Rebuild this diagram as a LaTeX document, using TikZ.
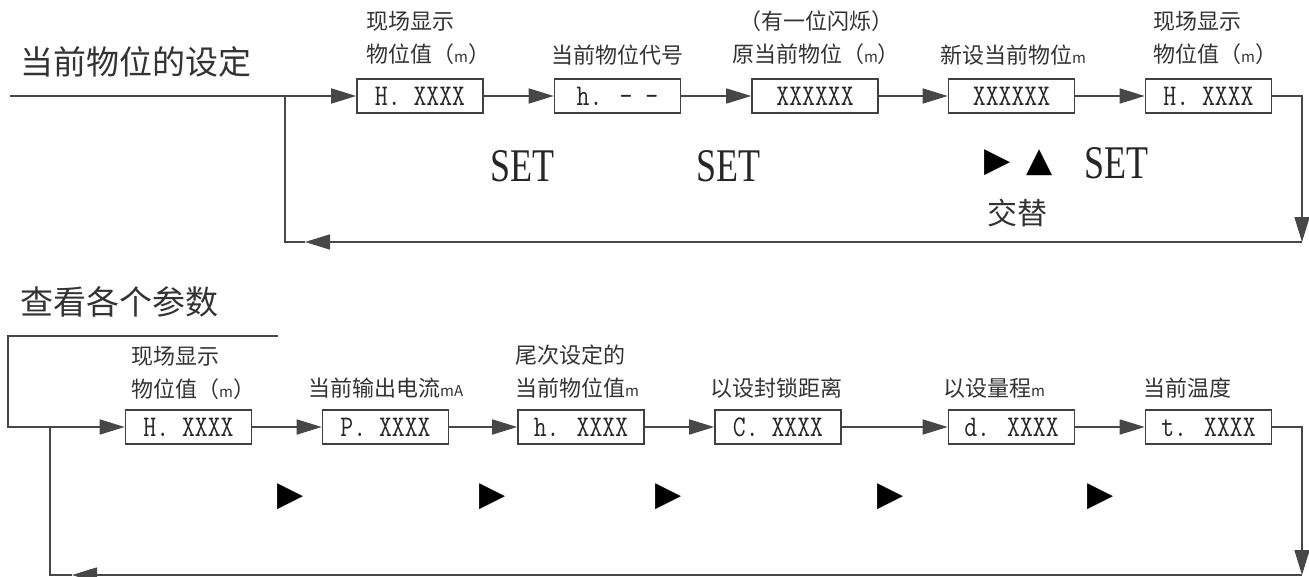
\documentclass[tikz,border=0pt]{standalone}
\usepackage{fontspec}
\setmainfont{Liberation Serif}
\newfontfamily\cjk{Noto Sans CJK SC}
\newfontfamily\symf{DejaVu Sans}
\usetikzlibrary{arrows.meta}
\begin{document}
\begin{tikzpicture}[x=1pt,y=-1pt,
 ln/.style={draw=black!72,line width=1.6pt},
 arr/.style={ln,-{Triangle[length=25pt,width=15pt]}},
 box/.style={draw=black!75,line width=1.6pt,minimum width=126pt,minimum height=34pt,inner sep=0pt,font=\fontsize{25}{25}\ttfamily,text=black!85},
 lbl/.style={font=\fontsize{22}{33}\cjk,text=black!80,anchor=west,align=left,inner sep=0pt},
 ttl/.style={font=\fontsize{33}{33}\cjk,text=black!80,anchor=west,inner sep=0pt},
 setk/.style={font=\fontsize{36}{36}\selectfont,text=black!85,inner sep=0pt},
 tri/.style={font=\fontsize{34}{34}\symf,text=black,inner sep=0pt}
]
\newcommand{\mm}[1]{{\fontsize{15}{15}\selectfont #1}}
\newcommand{\bt}[1]{\scalebox{1}[1.2]{#1}}
\useasboundingbox (0,0) rectangle (1309,576);

% ---------- top section ----------
\node[ttl] (t1) at (20,62) {当前物位的设定};

\node[box] (A1) at (420,96) {\bt{H. XXXX}};
\node[box] (A2) at (617.5,96) {\bt{h. - -}};
\node[box] (A3) at (815,96) {\bt{XXXXXX}};
\node[box] (A4) at (1011.5,96) {\bt{XXXXXX}};
\node[box] (A5) at (1208.5,96) {\bt{H. XXXX}};

\node[lbl] (LA1) at (366,38) {现场显示\\物位值（\mm{m}）};
\node[lbl] (LA2) at (551,55) {当前物位代号};
\node[lbl,align=center,anchor=center] (LA3) at (816,38) {（有一位闪烁）\\原当前物位（\mm{m}）};
\node[lbl] (LA4) at (940,55) {新设当前物位\mm{m}};
\node[lbl] (LA5) at (1153,38) {现场显示\\物位值（\mm{m}）};

\coordinate (s0) at (10,96);
\coordinate (c1) at (1302,96);
\coordinate (c2) at (1302,242);
\coordinate (ct) at (305,242);
\coordinate (c3) at (285,242);
\coordinate (c4) at (285,96);

\draw[arr] (s0) -- (A1.west);
\draw[arr] (A1.east) -- (A2.west);
\draw[arr] (A2.east) -- (A3.west);
\draw[arr] (A3.east) -- (A4.west);
\draw[arr] (A4.east) -- (A5.west);
\draw[arr] (A5.east) -- (c1) -- (c2);
\draw[arr] (c2) -- (ct);
\draw[ln] (ct) -- (c3) -- (c4);

\node[setk] (k1) at (522,166) {\scalebox{1}[1.3]{SET}};
\node[setk] (k2) at (728,166) {\scalebox{1}[1.3]{SET}};
\node[tri] (k3) at (998,163) {▶};
\node[tri] (k4) at (1040,163) {▲};
\node[setk] (k5) at (1116,163) {\scalebox{1}[1.3]{SET}};
\node[font=\fontsize{30}{30}\cjk,text=black!80,inner sep=0pt] (k6) at (1017,213) {交替};

% ---------- bottom section ----------
\node[ttl] (t2) at (20,302) {查看各个参数};

\node[box] (B1) at (188.5,427) {\bt{H. XXXX}};
\node[box] (B2) at (385.5,427) {\bt{P. XXXX}};
\node[box] (B3) at (581,427) {\bt{h. XXXX}};
\node[box] (B4) at (778,427) {\bt{C. XXXX}};
\node[box] (B5) at (1011.5,427) {\bt{d. XXXX}};
\node[box] (B6) at (1208.5,427) {\bt{t. XXXX}};

\node[lbl] (LB1) at (131,373) {现场显示\\物位值（\mm{m}）};
\node[lbl] (LB2) at (308,388) {当前输出电流\mm{mA}};
\node[lbl] (LB3) at (515,372) {尾次设定的\\当前物位值\mm{m}};
\node[lbl] (LB4) at (710,388) {以设封锁距离};
\node[lbl] (LB5) at (943,388) {以设量程\mm{m}};
\node[lbl] (LB6) at (1143,388) {当前温度};

\coordinate (d0) at (278,336);
\coordinate (d1) at (8,336);
\coordinate (d2) at (8,427);
\coordinate (e1) at (1302,427);
\coordinate (e2) at (1302,575);
\coordinate (et) at (72,575);
\coordinate (e3) at (50,575);
\coordinate (e4) at (50,427);

\draw[arr] (d0) -- (d1) -- (d2) -- (B1.west);
\draw[arr] (B1.east) -- (B2.west);
\draw[arr] (B2.east) -- (B3.west);
\draw[arr] (B3.east) -- (B4.west);
\draw[arr] (B4.east) -- (B5.west);
\draw[arr] (B5.east) -- (B6.west);
\draw[arr] (B6.east) -- (e1) -- (e2);
\draw[arr] (e2) -- (et);
\draw[ln] (et) -- (e3) -- (e4);

\node[tri] (p1) at (291,497) {▶};
\node[tri] (p2) at (493,497) {▶};
\node[tri] (p3) at (669,497) {▶};
\node[tri] (p4) at (891,497) {▶};
\node[tri] (p5) at (1101,497) {▶};
\end{tikzpicture}
\end{document}
